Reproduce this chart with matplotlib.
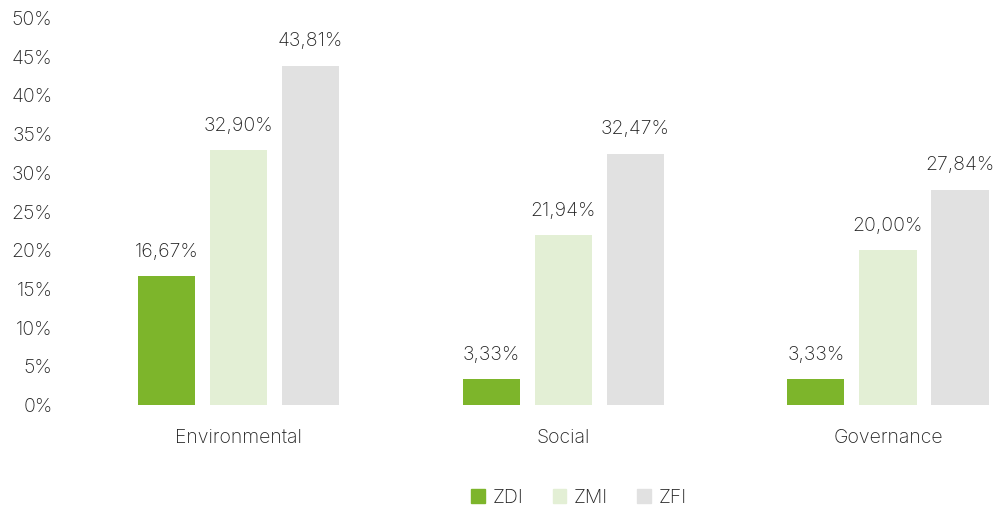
import matplotlib
matplotlib.use("Agg")
import matplotlib.pyplot as plt
import numpy as np
from matplotlib.patches import Patch

categories = ["Environmental", "Social", "Governance"]
series_names = ["ZDI", "ZMI", "ZFI"]
zdi = [16.67, 3.33, 3.33]
zmi = [32.90, 21.94, 20.00]
zfi = [43.81, 32.47, 27.84]
colors = ["#7db52b", "#e3efd5", "#e1e1e1"]
yticks = list(range(0, 51, 5))

plt.rcParams['font.family'] = ['Inter', 'DejaVu Sans']
plt.rcParams['font.weight'] = 'light'
fig = plt.figure(figsize=(10.06, 5.11), dpi=100)
ax = fig.add_axes([0.0646, 0.2074, 0.994 - 0.0646, 0.9648 - 0.2074])

x = np.arange(len(categories))
step = 0.222
width = 0.176
for i, (vals, c) in enumerate(zip([zdi, zmi, zfi], colors)):
    pos = x + (i - 1) * step
    ax.bar(pos, vals, width=width, color=c)
    for p, v in zip(pos, vals):
        ax.text(p, v + 2.0, f"{v:.2f}%".replace(".", ","), ha="center", va="bottom",
                fontsize=14, color="#222222")

ax.set_ylim(0, 50)
ax.set_xlim(-0.535, 2.345)
ax.set_yticks(yticks)
ax.set_yticklabels([f"{t}%" for t in yticks], fontsize=14, color="#222222")
ax.set_xticks(x)
ax.set_xticklabels(categories, fontsize=14, color="#222222")
ax.tick_params(length=0)
ax.tick_params(axis="x", pad=17)
ax.tick_params(axis="y", pad=9)
for s in ax.spines.values():
    s.set_visible(False)

handles = [Patch(color=c) for c in colors]
fig.legend(handles, series_names, loc="center", bbox_to_anchor=(579 / 1006, 1 - 498 / 511),
           ncol=3, frameon=False, fontsize=14, handlelength=0.7, handleheight=0.7,
           handletextpad=0.4, columnspacing=1.5, labelcolor="#222222")

fig.savefig("out.png", dpi=100)
